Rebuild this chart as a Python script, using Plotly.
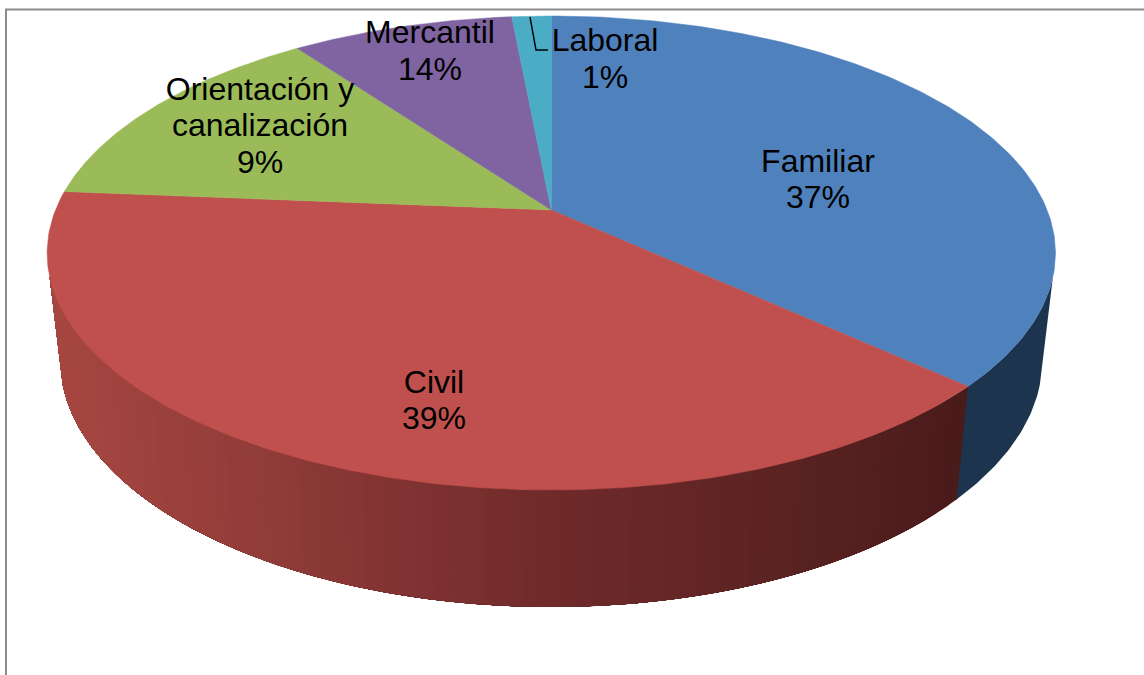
import numpy as np
import plotly.graph_objects as go

# Data
categories = ["Familiar", "Civil", "Orientación y canalización", "Mercantil", "Laboral"]
slice_shares = [36.8, 39.5, 13.7, 8.5, 1.5]
top_colors = ["#4f81bd", "#c0504d", "#9bbb59", "#8064a2", "#4bacc6"]

label_lines = ["Familiar", "37%", "Civil", "39%", "Orientación y", "canalización", "9%",
               "Mercantil", "14%", "Laboral", "1%"]
label_x = [818, 818, 434, 434, 260, 260, 260, 430, 430, 605, 605]
label_y = [164, 200, 385, 421, 92, 128, 165, 35, 72, 43, 80]

leader_x = [530, 536, 548]
leader_y = [17, 50, 50]

frame_x = [6, 6, 1144]
frame_y = [675, 9.5, 9.5]

# Projection of the pie discs (page pixels)
CX = 551.3
TOP = dict(a=495.8, b=229.2, k=0.1814, y0=210)
BOT = dict(a=483.0, b=239.0, k=0.18, y0=315.5)
SILHOUETTE = np.radians(106)  # angle from the vertical where the wall edge meets both discs


def project(theta, disc):
    X, Y = np.sin(theta), np.cos(theta)
    w = 1 + disc["k"] * Y
    return CX + disc["a"] * X / w, disc["y0"] - disc["b"] * Y / w


shares = np.array(slice_shares, dtype=float)
edges = np.concatenate([[0], np.cumsum(shares / shares.sum())]) * 2 * np.pi

fig = go.Figure()


def add_poly(xs, ys, color, width=0.0):
    fig.add_trace(go.Scatter(x=xs, y=ys, mode="lines", fill="toself", fillcolor=color,
                             line=dict(color=color, width=width), hoverinfo="skip", showlegend=False))


def mix(stops, x):
    xp = [s[0] for s in stops]
    rgb = [int(round(np.interp(x, xp, [s[1][i] for s in stops]))) for i in range(3)]
    return "rgb(%d,%d,%d)" % tuple(rgb)


# Side wall: blue flat face, red face shaded from left to right
blue_wall = "#1d344f"
red_stops = [(60, (166, 70, 65)), (280, (142, 59, 56)), (551, (112, 42, 42)),
             (800, (90, 34, 34)), (960, (74, 27, 27))]

th = np.linspace(SILHOUETTE, edges[1] + 0.004, 40)
tx, ty = project(th, TOP)
bx, by = project(th, BOT)
add_poly(np.r_[tx, bx[::-1]], np.r_[ty, by[::-1]], blue_wall)

# Red wall painted back to front: each band covers everything still to its left
n = 70
th_all = np.linspace(edges[1], 2 * np.pi - SILHOUETTE, n + 1)
for i in range(n):
    seg = np.linspace(th_all[i], th_all[-1], max(3, (n - i) * 3))
    tx, ty = project(seg, TOP)
    bx, by = project(seg, BOT)
    mid = project(np.array([(th_all[i] + th_all[i + 1]) / 2]), TOP)[0][0]
    add_poly(np.r_[tx, bx[::-1]], np.r_[ty, by[::-1]], mix(red_stops, mid))

# Top faces
for i, c in enumerate(top_colors):
    seg = np.linspace(edges[i], edges[i + 1], 160)
    x, y = project(seg, TOP)
    add_poly(np.r_[CX, x, CX], np.r_[TOP["y0"], y, TOP["y0"]], c, width=0.5)

# Leader line
fig.add_trace(go.Scatter(x=leader_x, y=leader_y, mode="lines", line=dict(color="#000000", width=1.4),
                         hoverinfo="skip", showlegend=False))
# Frame
fig.add_trace(go.Scatter(x=frame_x, y=frame_y, mode="lines", line=dict(color="#8c8c8c", width=2),
                         hoverinfo="skip", showlegend=False))
# Labels
fig.add_trace(go.Scatter(x=label_x, y=label_y, mode="text", text=label_lines, textposition="middle center",
                         textfont=dict(family="Liberation Sans", size=32, color="#000000"),
                         hoverinfo="skip", showlegend=False, cliponaxis=False))

fig.update_layout(width=1144, height=675, margin=dict(l=0, r=0, t=0, b=0), autosize=False,
                  paper_bgcolor="#ffffff", plot_bgcolor="#ffffff", showlegend=False,
                  xaxis=dict(range=[0, 1144], visible=False, fixedrange=True),
                  yaxis=dict(range=[675, 0], visible=False, fixedrange=True))
fig.write_html("out.html", config={"displayModeBar": False},
               post_script="document.body.style.margin='0';document.documentElement.style.overflow='hidden';")
